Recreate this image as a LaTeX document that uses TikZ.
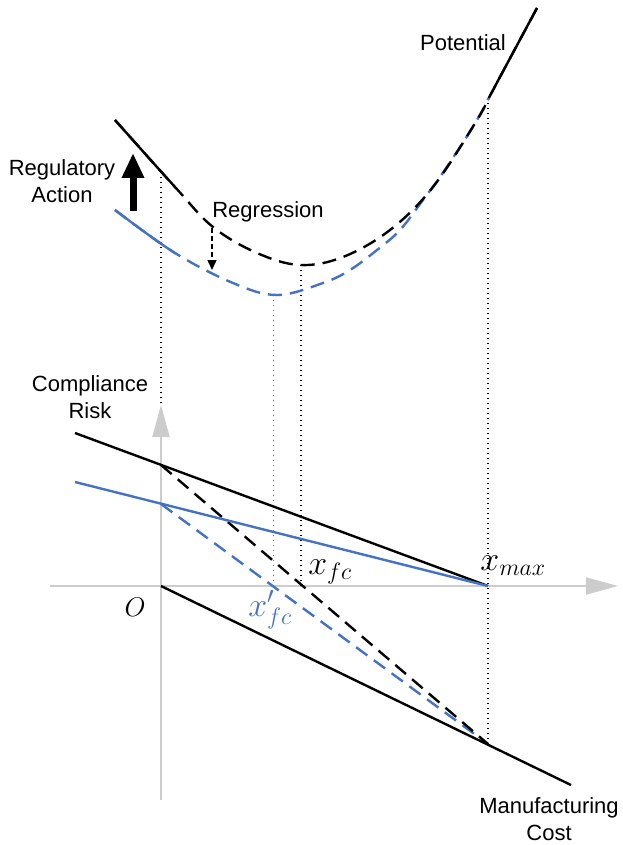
\RequirePackage{fix-cm}
\documentclass[tikz,border=0pt]{standalone}
\usepackage[no-math]{fontspec}
\setmainfont{Liberation Sans}
\usetikzlibrary{arrows.meta}
\definecolor{regblue}{RGB}{68,114,196}
\definecolor{axisgray}{RGB}{204,204,204}
\tikzset{
  curve/.style={line width=2.4pt},
  dashcurve/.style={line width=2.4pt,dash pattern=on 14pt off 8pt},
  guide/.style={line width=1.3pt,dash pattern=on 1.3pt off 3.7pt},
  axis/.style={line width=2pt,draw=axisgray,-{Triangle[length=32pt,width=17pt,fill=axisgray]}},
  lbl/.style={font=\fontsize{22}{27}\selectfont,align=center,inner sep=0pt},
  mlbl/.style={font=\fontsize{34}{34}\selectfont,inner sep=0pt}
}
\newcommand{\potpath}{plot[smooth,tension=0.6] coordinates {(115,120) (175,187) (213,227) (257,253) (300,265) (343,257) (390,230) (433,187) (477,120) (493,90) (537,8)}}
\newcommand{\regpath}{plot[smooth,tension=0.6] coordinates {(115,210) (175,253) (233,283) (277,295) (323,283) (350,270) (377,250) (400,230) (423,200) (440,177) (460,147) (477,120) (493,90)}}
\begin{document}
\begin{tikzpicture}[x=1pt,y=-1pt,>=stealth]
\useasboundingbox (0,0) rectangle (622,845);
% axes
\coordinate (O) at (161,586);
\coordinate (xend) at (618,586);
\coordinate (xstart) at (50,586);
\coordinate (ystart) at (161,800);
\coordinate (yend) at (161,405);
\draw[axis] (xstart) -- (xend);
\draw[axis] (ystart) -- (yend);
% points on the lines
\coordinate (A) at (161,465);
\coordinate (B) at (161,504);
\coordinate (xmax) at (488,586);
\coordinate (M) at (488,744);
\coordinate (Ltop) at (75,433);
\coordinate (Lblue) at (75,482);
\coordinate (Rbot) at (571,785);
% guide lines
\draw[guide] (161,172) -- (yend);
\draw[guide] (301,265) -- (301,586);
\draw[guide,regblue,line width=1pt] (273,295) -- (273,586);
\draw[guide] (488,98) -- (M);
% curves
\draw[dashcurve,regblue] \regpath;
\begin{scope}
  \clip (0,0) rectangle (175,845);
  \draw[curve,regblue] \regpath;
\end{scope}
\draw[dashcurve] \potpath;
\begin{scope}
  \clip (0,0) rectangle (175,845);
  \draw[curve] \potpath;
\end{scope}
\begin{scope}
  \clip (493,0) rectangle (622,845);
  \draw[curve] \potpath;
\end{scope}
% lines
\draw[dashcurve,regblue] (B) -- (M);
\draw[dashcurve] (A) -- (M);
\draw[curve] (Ltop) -- (xmax);
\draw[curve,regblue] (Lblue) -- (xmax);
\draw[curve] (O) -- (Rbot);
% arrows
\coordinate (actS) at (133,211);
\coordinate (actE) at (133,153);
\coordinate (regrS) at (212,228);
\coordinate (regrE) at (212,270);
\draw[line width=7pt,-{Triangle[length=25pt,width=21pt]}] (actS) -- (actE);
\draw[line width=1.5pt,dash pattern=on 5pt off 3pt,-{Triangle[length=10pt,width=9pt]}] (regrS) -- (regrE);
% labels
\node[lbl] (pot) at (463,43) {Potential};
\node[lbl] (act) at (62,181) {Regulatory\\Action};
\node[lbl] (regr) at (268,212) {Regression};
\node[lbl] (risk) at (90,397) {Compliance\\Risk};
\node[lbl] (cost) at (549,819) {Manufacturing\\Cost};
\node[inner sep=0pt,font=\fontsize{27}{27}\selectfont] (olab) at (135,607) {$O$};
\node[mlbl] (xfc) at (330,572) {$x_{fc}$};
\node[mlbl,regblue] (xfcb) at (270,610) {$x'_{fc}$};
\node[mlbl] (xmaxl) at (513,566) {$x_{max}$};
\end{tikzpicture}
\end{document}
